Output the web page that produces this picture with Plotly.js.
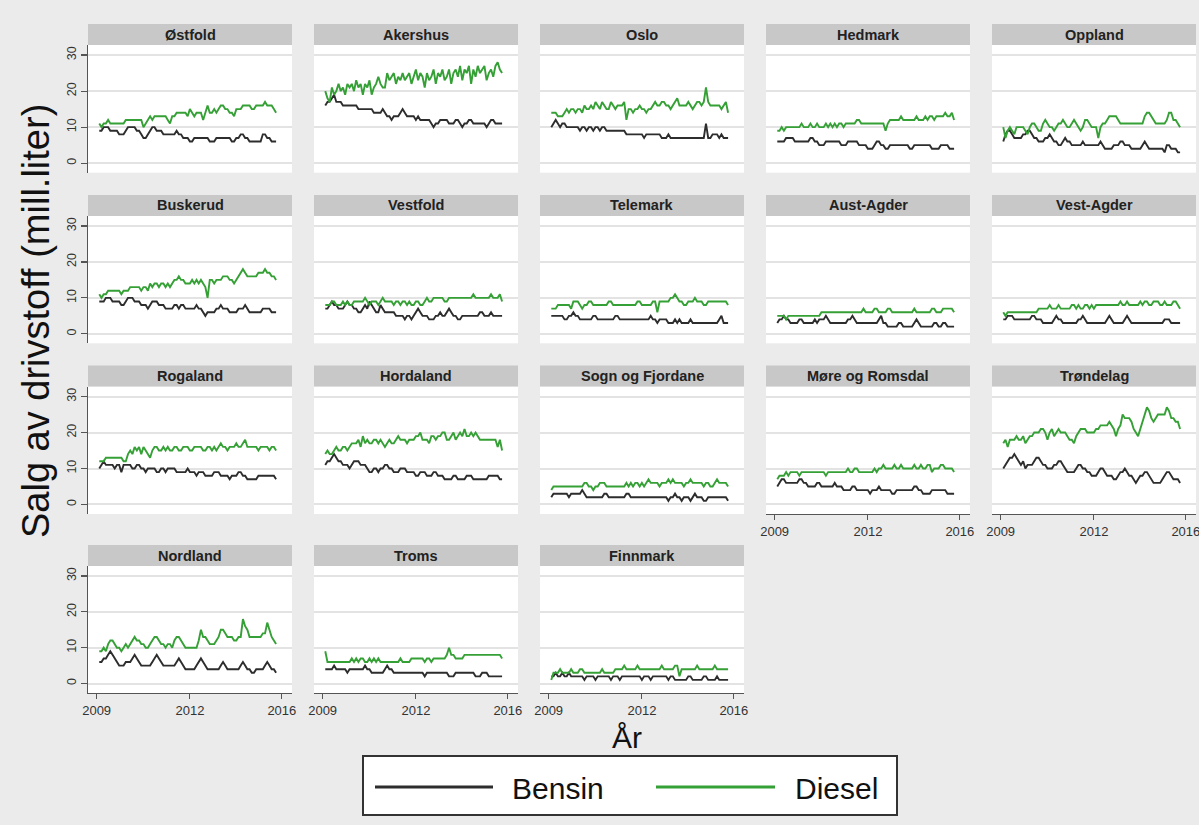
<!DOCTYPE html>
<html><head><meta charset="utf-8">
<script src="https://cdn.plot.ly/plotly-3.0.1.min.js"></script>
<style>html,body{margin:0;padding:0;background:#ebebeb;}#chart{width:1199px;height:825px;}</style>
</head><body><div id="chart"></div>
<script>
// ---------- DATA (million litres per month, Feb 2009 - Oct 2015) ----------
const regions = ['Østfold','Akershus','Oslo','Hedmark','Oppland','Buskerud','Vestfold','Telemark','Aust-Agder','Vest-Agder','Rogaland','Hordaland','Sogn og Fjordane','Møre og Romsdal','Trøndelag','Nordland','Troms','Finnmark'];
const seriesNames = ['Bensin','Diesel'];
const xTickLabels = ['2009','2012','2016'];
const yTickValues = [0,10,20,30];
const xTitle = 'År';
const yTitle = 'Salg av drivstoff (mill.liter)';

const ostfold_b = [9,9,10,10,10,9,9,9,9,8,8,8, 9,10,10,10,10,9,9,8,7,7,8,9, 10,10,9,9,9,8,8,8,8,8,8,9, 8,8,7,7,7,6,6,7,7,7,7,7, 7,7,6,6,6,7,7,7,7,7,7,7, 6,6,7,7,8,8,7,7,6,6,6,6, 6,6,8,8,7,7,6,6,6];
const ostfold_d = [11,10,11,11,12,11,11,11,11,11,11,11, 12,12,12,12,12,12,12,12,10,11,12,13, 12,13,13,13,13,13,13,12,11,13,13,14, 14,14,14,14,13,15,14,13,14,14,14,12, 14,16,14,14,15,14,15,16,16,15,15,14, 14,13,15,15,15,16,16,16,16,15,15,16, 16,16,16,17,16,16,16,15,14];
const akershus_b = [16,17,17,18,19,17,17,17,16,16,16,16, 16,16,16,15,15,15,15,15,15,15,14,14, 14,14,15,14,13,13,12,13,13,13,14,15, 14,13,13,13,13,12,13,12,12,12,12,12, 11,10,11,11,12,12,12,12,11,11,11,12, 12,11,10,11,11,12,12,11,11,11,11,11, 11,10,11,12,12,11,11,11,11];
const akershus_d = [20,18,17,21,19,20,22,20,21,19,22,21, 22,20,23,21,22,19,22,21,23,19,21,22, 24,22,21,21,25,23,24,25,22,24,23,25, 23,24,25,22,24,26,23,25,24,21,25,23, 24,26,22,25,24,26,23,24,26,22,25,26, 24,27,23,26,25,27,22,26,24,27,25,26, 27,23,25,26,24,27,28,26,25];
const oslo_b = [10,11,12,11,10,11,11,10,10,10,10,10, 10,9,10,10,9,10,10,9,10,10,9,10, 10,9,9,9,9,9,9,9,9,9,8,8, 8,8,8,8,8,8,7,8,8,8,8,8, 8,8,7,7,7,8,7,7,7,7,7,7, 7,7,7,7,7,7,7,7,7,7,11,7, 7,8,8,8,7,8,7,7,7];
const oslo_d = [14,14,14,13,13,13,14,15,14,15,15,14, 15,15,14,16,15,15,16,15,17,16,15,17, 16,15,15,17,16,15,16,16,16,17,12,15, 15,14,15,15,16,15,15,14,15,15,16,17, 16,16,17,17,16,16,15,16,17,18,16,16, 16,16,17,16,15,16,17,17,16,17,21,17, 16,16,16,16,16,15,16,17,14];
const hedmark_b = [6,6,6,6,7,7,7,7,6,6,6,6, 6,6,6,7,7,6,6,5,5,5,6,6, 6,6,6,6,6,5,5,5,6,6,6,6, 6,5,5,5,5,4,4,4,5,6,6,5, 5,4,4,5,5,5,5,5,5,5,5,5, 4,4,5,5,5,5,5,5,5,5,4,4, 4,4,5,5,5,5,4,4,4];
const hedmark_d = [9,9,10,9,10,10,10,10,10,10,10,11, 10,10,10,11,10,10,11,10,10,10,11,10, 11,10,11,10,11,11,10,11,11,11,11,11, 12,12,11,11,11,11,11,11,11,11,11,11, 11,9,11,12,12,12,12,12,13,12,12,12, 12,12,12,13,12,12,12,13,12,13,13,12, 13,13,13,13,14,13,13,14,12];
const oppland_b = [6,8,9,9,8,7,7,7,7,8,8,9, 9,8,7,7,6,6,6,7,7,8,7,6, 6,5,5,6,7,6,6,5,5,5,5,5, 6,5,5,5,5,5,5,5,6,5,4,4, 4,4,5,5,5,6,6,5,5,5,4,4, 4,4,4,5,6,5,4,4,4,4,4,4, 4,3,5,5,4,4,4,3,3];
const oppland_d = [10,7,9,10,9,8,10,10,10,10,9,8, 10,11,11,10,9,9,11,12,11,10,10,9, 10,11,11,12,11,10,10,11,12,11,10,9, 10,12,12,11,10,10,10,7,10,11,11,12, 13,13,13,13,12,11,11,11,11,11,11,11, 11,11,11,11,13,14,14,13,12,11,11,11, 11,11,12,14,14,12,12,11,10];
const buskerud_b = [9,9,9,10,10,10,9,9,9,9,8,8, 9,10,10,10,9,9,9,8,8,8,7,8, 9,9,9,8,8,8,7,7,7,7,8,8, 7,8,8,7,7,7,7,7,8,7,7,6, 5,6,6,6,6,7,7,8,7,7,7,6, 6,6,6,7,7,7,8,7,6,6,6,6, 6,6,7,7,7,7,6,6,6];
const buskerud_d = [11,10,11,11,12,12,12,12,12,12,11,12, 12,12,13,13,13,13,13,12,13,13,12,14, 13,14,14,13,14,14,13,14,13,14,15,15, 16,15,15,14,14,14,15,14,15,14,15,14, 13,10,15,15,14,15,15,15,16,16,16,15, 15,14,15,16,17,18,17,16,16,16,16,16, 17,17,17,18,17,17,16,16,15];
const vestfold_b = [7,7,8,9,8,8,7,7,7,8,9,8, 8,7,7,6,6,7,8,7,9,8,7,6, 6,8,7,6,6,6,6,6,5,5,5,5, 4,5,5,4,5,6,7,6,5,5,5,4, 4,4,5,5,6,5,5,6,7,6,5,5, 4,4,5,5,5,5,5,5,5,5,6,6, 5,5,5,6,5,5,5,5,5];
const vestfold_d = [8,8,8,9,9,8,8,8,9,8,9,8, 8,9,9,9,9,9,10,9,8,9,9,9, 8,9,10,9,9,9,9,8,9,9,8,9, 9,8,9,8,8,9,9,8,8,9,10,9, 9,10,10,10,10,10,9,9,10,10,10,10, 10,10,10,10,10,10,10,11,10,10,10,10, 10,10,10,11,10,10,10,11,9];
const telemark_b = [5,5,5,5,5,5,4,4,5,5,6,5, 5,4,4,4,4,4,4,5,5,4,4,4, 4,4,4,4,4,5,5,4,4,4,4,4, 4,4,4,4,4,4,4,4,4,5,4,4, 3,4,4,4,4,3,3,3,4,3,4,3, 3,3,3,4,3,3,3,3,3,3,3,3, 3,3,3,3,4,5,3,3,3];
const telemark_d = [7,7,7,8,8,8,8,8,8,7,9,9, 9,8,7,8,8,9,9,8,8,8,8,8, 8,8,9,9,8,8,8,8,8,8,8,8, 8,8,8,9,9,8,8,8,8,8,9,9, 6,9,9,9,9,9,10,10,11,10,9,9, 8,8,9,9,9,10,9,9,9,8,8,9, 9,9,9,9,9,9,9,9,8];
const austagder_b = [3,4,4,5,4,4,3,3,3,3,4,4, 3,3,3,3,3,4,3,4,4,4,5,4, 3,3,3,3,3,3,3,3,4,4,5,4, 3,3,3,3,3,3,3,3,3,3,4,5, 3,3,2,2,2,2,2,3,3,2,2,2, 2,2,3,4,3,2,2,2,2,2,2,3, 3,2,2,3,3,2,2,2,2];
const austagder_d = [5,5,5,5,4,5,5,5,5,5,5,5, 5,5,5,5,5,5,5,5,6,6,6,6, 6,6,6,6,6,6,6,6,6,6,6,6, 6,6,6,7,6,6,6,6,7,7,6,6, 6,6,7,7,6,6,6,6,6,6,6,6, 6,6,7,6,6,6,6,6,6,6,7,7, 6,6,6,7,7,7,7,7,6];
const vestagder_b = [4,4,5,5,5,4,4,4,4,4,4,4, 4,5,5,4,4,4,3,3,3,3,3,4, 5,4,4,3,3,3,3,3,3,3,4,4, 5,4,3,3,3,3,3,3,3,3,3,4, 5,4,3,3,3,3,3,4,5,4,3,3, 3,3,3,3,3,3,3,3,3,3,3,3, 3,4,4,4,3,3,3,3,3];
const vestagder_d = [6,5,6,6,6,6,6,6,6,6,6,6, 6,6,6,6,7,7,7,7,7,8,7,7, 7,8,7,7,7,7,7,8,8,7,8,7, 7,8,8,7,8,7,8,8,8,8,8,8, 8,8,8,8,8,9,8,8,9,8,8,8, 8,8,9,8,9,9,8,8,9,9,9,8, 8,9,8,8,8,9,9,8,7];
const rogaland_b = [10,11,12,11,11,11,11,10,11,11,9,11, 11,11,11,10,10,11,11,10,10,9,10,10, 10,10,9,9,10,10,9,10,10,10,10,9, 9,9,9,9,10,9,9,9,8,9,9,9, 8,8,8,8,9,9,9,8,8,8,8,7, 8,8,8,9,9,8,8,7,7,7,7,7, 8,8,8,8,8,8,8,8,7];
const rogaland_d = [12,12,12,13,13,13,13,13,13,13,13,12, 12,14,15,14,16,15,16,14,16,15,14,13, 15,16,16,15,15,16,15,16,15,15,16,16, 15,15,16,16,16,15,15,16,16,16,16,15, 15,16,16,15,16,15,16,17,16,16,15,16, 16,16,17,16,16,17,18,16,16,16,16,16, 15,16,16,16,16,15,16,16,15];
const hordaland_b = [11,12,12,13,14,13,12,12,11,11,11,10, 11,12,12,12,11,11,11,10,9,9,10,10, 9,10,10,11,11,10,10,9,9,9,10,10, 10,9,9,9,9,8,8,9,9,9,8,8, 8,9,9,8,8,8,7,7,7,7,8,8, 7,7,7,7,8,8,8,7,7,7,7,7, 7,7,8,8,8,8,8,7,7];
const hordaland_d = [14,15,14,14,15,16,15,15,16,16,15,16, 17,17,17,18,16,19,17,18,17,17,18,18, 17,18,17,16,17,18,17,17,18,19,18,18, 18,17,18,18,18,19,19,20,18,18,18,17, 19,19,18,19,19,20,20,18,18,19,20,18, 19,20,19,21,19,19,20,19,20,19,18,18, 18,18,18,18,18,18,16,18,15];
const sogn_b = [2,3,3,3,3,3,3,3,2,3,3,3, 3,3,4,3,2,2,2,2,2,2,2,2, 3,3,2,2,2,2,2,2,2,2,3,3, 2,2,2,2,2,2,2,2,2,2,2,2, 2,2,2,2,2,1,2,2,3,2,2,1, 2,2,2,1,2,3,2,2,2,1,1,2, 2,2,2,2,2,2,2,2,1];
const sogn_d = [4,5,5,5,5,5,5,5,5,5,5,5, 5,5,5,6,6,5,5,4,5,5,6,6, 6,5,5,5,5,5,5,5,5,5,6,5, 6,5,6,6,5,6,5,6,7,6,6,6, 6,5,6,6,6,7,6,7,6,6,6,6, 5,6,6,7,6,6,6,6,6,5,6,6, 5,5,6,7,6,6,6,6,5];
const more_b = [5,6,7,7,6,6,6,6,6,6,7,7, 6,6,5,5,5,5,6,6,5,5,5,5, 5,5,6,5,5,5,4,4,4,4,5,5, 4,4,4,4,4,4,3,4,4,4,5,4, 4,4,4,4,3,3,4,4,4,4,4,4, 4,4,5,5,4,4,3,3,3,3,4,4, 4,4,4,4,4,3,3,3,3];
const more_d = [7,8,8,8,9,8,9,9,9,9,8,9, 9,9,9,9,9,9,9,9,9,9,8,9, 9,9,9,9,9,9,9,9,10,9,9,10, 10,9,9,9,9,9,9,9,10,9,10,10, 11,10,10,10,10,11,10,10,11,10,10,10, 10,10,11,10,10,11,10,10,11,11,9,10, 10,10,11,11,10,10,10,10,9];
const trondelag_b = [10,11,12,13,13,14,13,12,11,12,10,11, 11,11,12,13,13,12,11,11,10,10,10,11, 11,12,12,11,10,9,9,9,9,10,11,11, 10,10,9,9,8,8,8,9,10,10,9,8, 8,8,7,7,8,9,9,10,9,8,8,7, 6,7,8,8,9,9,8,7,6,6,6,6, 7,8,9,9,8,7,7,7,6];
const trondelag_d = [17,18,16,18,18,18,19,18,18,19,17,18, 19,19,20,20,20,21,21,20,18,20,21,19, 20,21,20,20,20,19,18,18,17,19,20,21, 21,21,20,20,20,20,21,21,22,22,22,22, 23,22,21,19,21,22,25,24,24,24,23,21, 20,19,21,23,25,27,26,24,23,24,25,25, 25,25,27,26,24,24,23,23,21];
const nordland_b = [6,6,7,7,8,9,8,7,6,5,5,5, 6,6,6,7,8,7,6,5,5,5,5,5, 6,7,8,7,6,5,5,5,5,5,5,6, 7,6,5,4,4,4,4,4,5,6,7,6, 5,4,4,4,4,4,4,5,6,5,4,4, 4,4,4,4,5,6,5,4,4,3,3,4, 4,4,4,5,6,5,4,4,3];
const nordland_d = [9,9,10,9,11,12,12,11,10,10,9,10, 11,10,11,12,13,12,12,11,11,10,10,11, 12,13,13,12,11,11,10,11,11,10,12,13, 13,12,11,10,10,10,10,10,10,12,15,13, 13,12,11,11,11,12,13,15,15,14,13,13, 13,12,12,13,13,18,16,15,13,13,13,13, 13,13,14,14,17,15,13,12,11];
const troms_b = [4,4,4,4,5,4,4,4,4,4,3,4, 4,4,4,4,4,4,5,4,4,3,3,3, 3,3,3,4,5,4,4,3,3,3,3,3, 3,3,3,3,3,3,3,3,3,2,3,3, 3,3,3,3,3,3,3,3,2,2,2,3, 3,3,3,3,3,3,3,3,2,2,2,3, 3,3,2,2,2,2,2,2,2];
const troms_d = [9,6,6,6,6,6,6,6,6,6,6,6, 7,6,7,6,7,7,6,6,7,6,7,6, 7,6,6,6,6,6,6,6,6,6,7,6, 6,6,6,7,7,7,7,7,7,6,7,7, 6,7,7,7,7,7,7,8,10,8,8,7, 7,7,7,8,8,8,8,8,8,8,8,8, 8,8,8,8,8,8,8,8,7];
const finnmark_b = [2,2,3,2,2,3,2,2,3,2,2,2, 2,2,2,1,2,2,2,2,1,2,2,2, 2,2,2,1,2,2,2,1,2,2,2,2, 2,2,2,2,2,1,2,2,2,1,2,2, 2,2,2,2,2,1,2,2,1,1,1,1, 1,1,2,2,1,1,1,1,1,2,2,1, 1,1,1,2,1,1,1,1,1];
const finnmark_d = [1,3,3,3,4,3,3,3,3,4,3,3, 3,4,4,3,3,3,3,3,3,3,3,4, 3,3,3,3,3,4,4,4,4,5,4,4, 4,4,4,5,4,4,4,4,4,4,4,4, 4,4,5,4,4,4,4,4,5,5,2,4, 4,4,4,4,4,4,5,4,4,4,4,4, 4,4,5,4,4,4,4,4,4];

const bensinSeries = [ostfold_b,akershus_b,oslo_b,hedmark_b,oppland_b,buskerud_b,vestfold_b,telemark_b,austagder_b,vestagder_b,rogaland_b,hordaland_b,sogn_b,more_b,trondelag_b,nordland_b,troms_b,finnmark_b];
const dieselSeries = [ostfold_d,akershus_d,oslo_d,hedmark_d,oppland_d,buskerud_d,vestfold_d,telemark_d,austagder_d,vestagder_d,rogaland_d,hordaland_d,sogn_d,more_d,trondelag_d,nordland_d,troms_d,finnmark_d];

// ---------- LAYOUT ----------
const W = 1199, H = 825;
const colLeft = [88, 314, 540, 766, 992], panelW = 204;
const rowTop = [45, 216, 386.5, 566], rowBottom = [172.7, 343.3, 514, 693], headerH = 21;
const xTickPos = [-1.2, 41, 82.6];
const xRange = [-5.1, 87.2], yRange = [-2.65, 32.8];
const withXLabels = new Set([13, 14, 15, 16, 17]);
const colB = '#2d2d2d', colD = '#35a035';
const FONT = 'Liberation Sans, Arial, sans-serif';

const px = v => v / W, py = v => 1 - v / H;
const traces = [];
const layout = {
  width: W, height: H, autosize: false,
  margin: {l: 0, r: 0, t: 0, b: 0, pad: 0},
  paper_bgcolor: '#ebebeb', plot_bgcolor: '#ffffff',
  showlegend: false, font: {family: FONT, color: '#333'},
  shapes: [], annotations: []
};

regions.forEach((name, i) => {
  const r = Math.floor(i / 5), c = i % 5;
  const ax = i === 0 ? '' : String(i + 1);
  const L = colLeft[c], T = rowTop[r], B = rowBottom[r];
  traces.push({type: 'scatter', mode: 'lines', x: bensinSeries[i].map((_, k) => k), y: bensinSeries[i], xaxis: 'x' + ax, yaxis: 'y' + ax,
    name: seriesNames[0], line: {color: colB, width: 1.9}, hoverinfo: 'skip'});
  traces.push({type: 'scatter', mode: 'lines', x: dieselSeries[i].map((_, k) => k), y: dieselSeries[i], xaxis: 'x' + ax, yaxis: 'y' + ax,
    name: seriesNames[1], line: {color: colD, width: 1.9}, hoverinfo: 'skip'});
  const showX = withXLabels.has(i), showY = c === 0;
  layout['xaxis' + ax] = {
    domain: [px(L), px(L + panelW)], range: xRange, anchor: 'y' + ax,
    showgrid: false, zeroline: false, fixedrange: true,
    showline: showX, linecolor: '#555', linewidth: 1.2,
    ticks: showX ? 'outside' : '', ticklen: 5, tickwidth: 1.2, tickcolor: '#555',
    tickmode: 'array', tickvals: xTickPos, ticktext: xTickLabels, ticklabeloverflow: 'allow',
    showticklabels: showX, tickfont: {size: 13, color: '#333', family: FONT}
  };
  layout['yaxis' + ax] = {
    domain: [py(B), py(T)], range: yRange, anchor: 'x' + ax,
    showgrid: true, gridcolor: '#e3e3e3', gridwidth: 2, zeroline: false, fixedrange: true,
    showline: showY, linecolor: '#555', linewidth: 1.2,
    ticks: showY ? 'outside' : '', ticklen: 6, tickwidth: 1.2, tickcolor: '#555',
    tickmode: 'array', tickvals: yTickValues, tickangle: -90,
    showticklabels: showY, tickfont: {size: 12.5, color: '#333', family: FONT}
  };
  layout.shapes.push({type: 'rect', xref: 'paper', yref: 'paper', x0: px(L), x1: px(L + panelW),
    y0: py(T), y1: py(T - headerH), fillcolor: '#c8c8c8', line: {width: 0}, layer: 'below'});
  layout.annotations.push({xref: 'paper', yref: 'paper', x: px(L + panelW / 2), y: py(T - headerH / 2),
    text: '<b>' + name + '</b>', showarrow: false, xanchor: 'center', yanchor: 'middle',
    font: {size: 14.5, color: '#222', family: FONT}});
});

// axis titles
layout.annotations.push({xref: 'paper', yref: 'paper', x: px(36), y: py(321), text: yTitle, textangle: -90,
  showarrow: false, xanchor: 'center', yanchor: 'middle', font: {size: 38, color: '#111', family: FONT}});
layout.annotations.push({xref: 'paper', yref: 'paper', x: px(627), y: py(737), text: xTitle,
  showarrow: false, xanchor: 'center', yanchor: 'middle', font: {size: 30, color: '#111', family: FONT}});

// legend box
layout.shapes.push({type: 'rect', xref: 'paper', yref: 'paper', x0: px(363), x1: px(897), y0: py(815), y1: py(756),
  fillcolor: '#ffffff', line: {color: '#333', width: 2}});
layout.shapes.push({type: 'line', xref: 'paper', yref: 'paper', x0: px(375), x1: px(493), y0: py(787), y1: py(787),
  line: {color: colB, width: 3}});
layout.shapes.push({type: 'line', xref: 'paper', yref: 'paper', x0: px(656), x1: px(775), y0: py(787), y1: py(787),
  line: {color: colD, width: 3}});
layout.annotations.push({xref: 'paper', yref: 'paper', x: px(510), y: py(788), text: seriesNames[0], showarrow: false,
  xanchor: 'left', yanchor: 'middle', font: {size: 30, color: '#111', family: FONT}});
layout.annotations.push({xref: 'paper', yref: 'paper', x: px(793), y: py(788), text: seriesNames[1], showarrow: false,
  xanchor: 'left', yanchor: 'middle', font: {size: 30, color: '#111', family: FONT}});

Plotly.newPlot('chart', traces, layout, {staticPlot: true, displayModeBar: false});
</script></body></html>
